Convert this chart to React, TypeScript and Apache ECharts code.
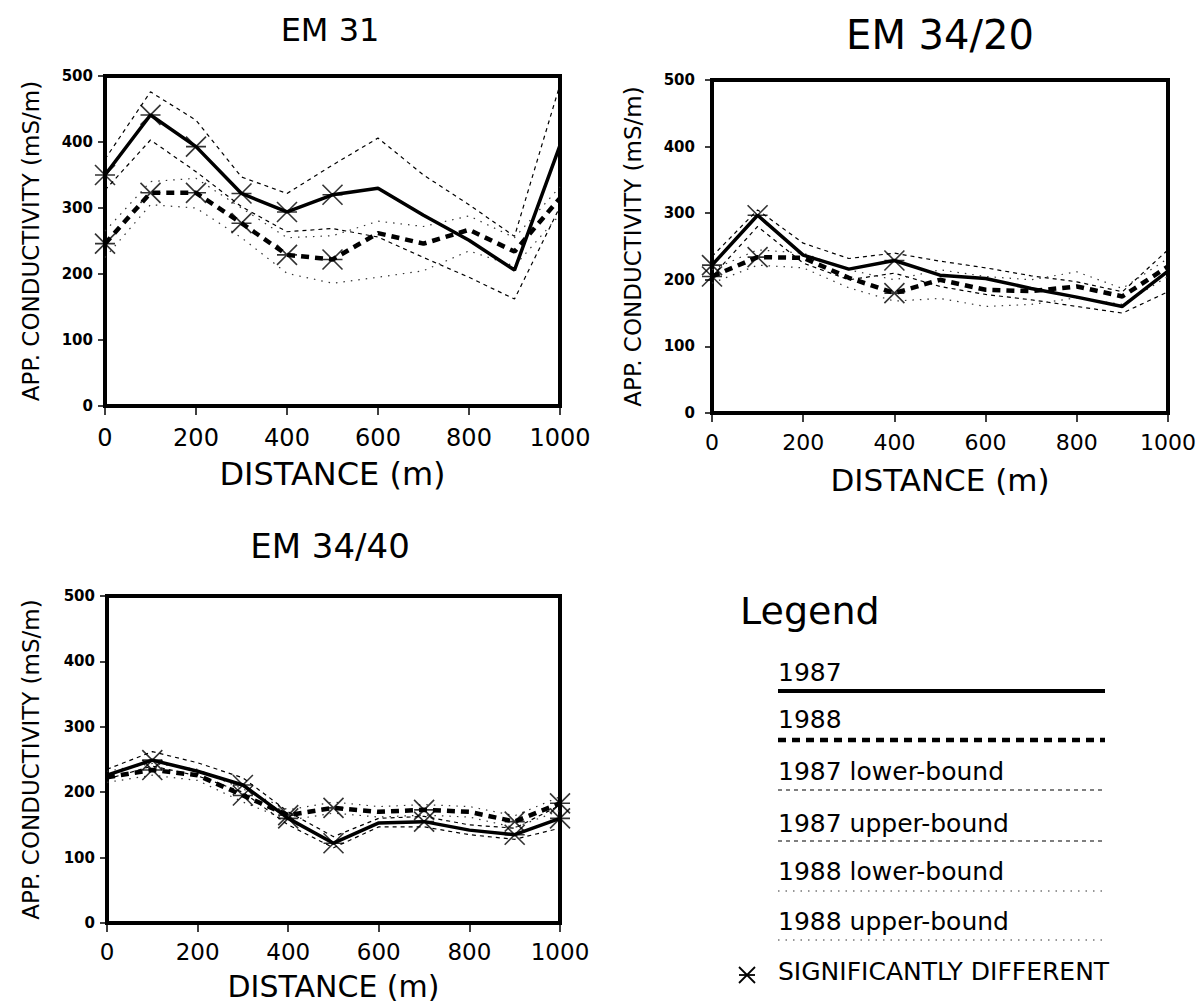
import React, { useEffect, useRef } from "react";
import * as echarts from "echarts";

// ---------- data ----------
const DIST = [0, 100, 200, 300, 400, 500, 600, 700, 800, 900, 1000];

// EM 31
const EM31_1987 = [350, 441, 393, 322, 294, 320, 330, 289, 251, 206, 395];
const EM31_1988 = [246, 323, 323, 277, 229, 222, 262, 246, 267, 234, 315];
const EM31_1987_LO = [327, 403, 355, 302, 264, 269, 256, 225, 195, 162, 302];
const EM31_1987_HI = [374, 476, 433, 347, 322, 365, 406, 350, 305, 257, 487];
const EM31_1988_LO = [225, 305, 300, 255, 201, 186, 195, 205, 235, 212, 290];
const EM31_1988_HI = [265, 340, 345, 300, 255, 258, 280, 272, 288, 255, 332];
const EM31_SIG = [0, 100, 200, 300, 400, 500];

// EM 34/20
const EM3420_1987 = [222, 297, 237, 216, 229, 207, 202, 187, 174, 160, 213];
const EM3420_1988 = [205, 234, 233, 203, 180, 200, 185, 183, 190, 175, 220];
const EM3420_1987_LO = [205, 280, 225, 200, 210, 190, 178, 170, 160, 150, 182];
const EM3420_1987_HI = [235, 305, 255, 232, 240, 228, 218, 206, 197, 182, 245];
const EM3420_1988_LO = [195, 222, 218, 188, 168, 172, 160, 163, 173, 163, 205];
const EM3420_1988_HI = [215, 245, 240, 215, 200, 215, 205, 200, 212, 187, 232];
const EM3420_SIG = [0, 100, 400];

// EM 34/40
const EM3440_1987 = [226, 249, 232, 211, 160, 122, 153, 155, 142, 135, 160];
const EM3440_1988 = [223, 234, 226, 195, 165, 176, 170, 173, 170, 155, 183];
const EM3440_1987_LO = [220, 240, 225, 200, 150, 115, 147, 147, 135, 128, 145];
const EM3440_1987_HI = [235, 262, 245, 222, 170, 132, 160, 163, 150, 145, 180];
const EM3440_1988_LO = [215, 226, 218, 185, 157, 168, 162, 165, 162, 146, 172];
const EM3440_1988_HI = [232, 244, 235, 205, 173, 185, 178, 181, 178, 164, 193];
const EM3440_SIG = [100, 300, 400, 500, 700, 900, 1000];

const Y_MAX = 500;
const Y_INTERVAL = 100;
const X_MAX = 1000;
const X_INTERVAL = 200;

const TITLES = ["EM 31", "EM 34/20", "EM 34/40"];
const X_NAME = "DISTANCE (m)";
const Y_NAME = "APP. CONDUCTIVITY (mS/m)";
const LEGEND_TITLE = "Legend";
const LEGEND_ITEMS = [
  "1987",
  "1988",
  "1987 lower-bound",
  "1987 upper-bound",
  "1988 lower-bound",
  "1988 upper-bound",
];
const SIG_LABEL = "SIGNIFICANTLY DIFFERENT";

const FONT = "DejaVu Sans";
const STAR = "path://M0 0 L10 10 M10 0 L0 10 M0 5 L10 5";

function pairs(ys: number[]) {
  return DIST.map((d, i) => [d, ys[i]]);
}
function sigPairs(ys: number[], sig: number[]) {
  return sig.map((d) => [d, ys[DIST.indexOf(d)]]);
}

function panelSeries(
  gi: number,
  y87: number[],
  y88: number[],
  lo87: number[],
  hi87: number[],
  lo88: number[],
  hi88: number[],
  sig: number[]
) {
  const base = { xAxisIndex: gi, yAxisIndex: gi, silent: true, symbol: "none" };
  const bound87 = { color: "#000", width: 1.2, type: [4, 4] };
  const bound88 = { color: "#333", width: 1.2, type: [1.5, 6] };
  return [
    { ...base, type: "line", data: pairs(lo87), lineStyle: bound87, z: 2 },
    { ...base, type: "line", data: pairs(hi87), lineStyle: bound87, z: 2 },
    { ...base, type: "line", data: pairs(lo88), lineStyle: bound88, z: 2 },
    { ...base, type: "line", data: pairs(hi88), lineStyle: bound88, z: 2 },
    {
      ...base,
      type: "line",
      data: pairs(y87),
      lineStyle: { color: "#000", width: 3.5 },
      z: 3,
    },
    {
      ...base,
      type: "line",
      data: pairs(y88),
      lineStyle: { color: "#000", width: 4.5, type: [8, 6] },
      z: 3,
    },
    {
      xAxisIndex: gi,
      yAxisIndex: gi,
      silent: true,
      type: "scatter",
      symbol: STAR,
      symbolSize: 20,
      data: sigPairs(y87, sig).concat(sigPairs(y88, sig)),
      itemStyle: { color: "rgba(0,0,0,0)", borderColor: "#000", borderWidth: 1.6 },
      z: 4,
    },
  ];
}

const GRIDS = [
  { left: 105, top: 76, width: 455, height: 330 },
  { left: 712, top: 80, width: 456, height: 333 },
  { left: 107, top: 596, width: 453, height: 327 },
];
const X_LABEL_SIZE = [24, 22, 23];
const X_LABEL_MARGIN = [20, 18, 17];
const X_NAME_SIZE = [32, 31, 30];
const X_NAME_GAP = [52, 51, 48];
const Y_LABEL_MARGIN = [12, 17, 12];
const Y_NAME_GAP = [63, 68, 65];

export default function App() {
  const ref = useRef<HTMLDivElement>(null);
  useEffect(() => {
    document.body.style.margin = "0";
    const chart = echarts.init(ref.current!, null, { renderer: "svg" });

    const grid = GRIDS.map((g) => ({
      ...g,
      show: true,
      borderColor: "#000",
      borderWidth: 4,
      backgroundColor: "transparent",
    }));

    const xAxis = GRIDS.map((_, i) => ({
      gridIndex: i,
      type: "value",
      min: 0,
      max: X_MAX,
      interval: X_INTERVAL,
      splitLine: { show: false },
      axisLine: { show: false },
      axisTick: { show: true, length: 9, lineStyle: { color: "#000", width: 1.5 } },
      axisLabel: {
        color: "#000",
        fontSize: X_LABEL_SIZE[i],
        fontFamily: FONT,
        margin: X_LABEL_MARGIN[i],
        lineHeight: X_LABEL_SIZE[i],
        formatter: (v: number) => String(v),
      },
      name: X_NAME,
      nameLocation: "middle",
      nameGap: X_NAME_GAP[i],
      nameTextStyle: {
        color: "#000",
        fontSize: X_NAME_SIZE[i],
        fontFamily: FONT,
        lineHeight: X_NAME_SIZE[i],
      },
    }));

    const yAxis = GRIDS.map((_, i) => ({
      gridIndex: i,
      type: "value",
      min: 0,
      max: Y_MAX,
      interval: Y_INTERVAL,
      splitLine: { show: false },
      axisLine: { show: false },
      axisTick: { show: true, length: 7, lineStyle: { color: "#000", width: 1.5 } },
      axisLabel: {
        color: "#000",
        fontSize: 15,
        fontWeight: "bold",
        fontFamily: FONT,
        margin: Y_LABEL_MARGIN[i],
        formatter: (v: number) => String(v),
      },
      name: Y_NAME,
      nameLocation: "middle",
      nameGap: Y_NAME_GAP[i],
      nameTextStyle: { color: "#000", fontSize: 23, fontFamily: FONT },
    }));

    const series = [
      ...panelSeries(0, EM31_1987, EM31_1988, EM31_1987_LO, EM31_1987_HI, EM31_1988_LO, EM31_1988_HI, EM31_SIG),
      ...panelSeries(1, EM3420_1987, EM3420_1988, EM3420_1987_LO, EM3420_1987_HI, EM3420_1988_LO, EM3420_1988_HI, EM3420_SIG),
      ...panelSeries(2, EM3440_1987, EM3440_1988, EM3440_1987_LO, EM3440_1987_HI, EM3440_1988_LO, EM3440_1988_HI, EM3440_SIG),
    ];

    const titlePos = [
      [330, 14, 32],
      [940, 15, 40],
      [330, 529, 34],
    ];
    const titleGraphics = TITLES.map((t, i) => ({
      type: "text",
      x: titlePos[i][0],
      y: titlePos[i][1],
      style: {
        text: t,
        fill: "#000",
        font: `${titlePos[i][2]}px "${FONT}"`,
        textAlign: "center",
        textVerticalAlign: "top",
      },
    }));

    const legendX = 778;
    const legendLineEnd = 1105;
    const itemTops = [660, 707, 759, 811, 859, 909];
    const lineYs = [691, 740, 790, 841, 891, 940];
    const lineStyles: any[] = [
      { stroke: "#000", lineWidth: 4 },
      { stroke: "#000", lineWidth: 4.5, lineDash: [8, 6] },
      { stroke: "#000", lineWidth: 1.2, lineDash: [4, 4] },
      { stroke: "#000", lineWidth: 1.2, lineDash: [4, 4] },
      { stroke: "#333", lineWidth: 1.2, lineDash: [1.5, 6] },
      { stroke: "#333", lineWidth: 1.2, lineDash: [1.5, 6] },
    ];
    const legendGraphics: any[] = [
      {
        type: "text",
        x: 740,
        y: 592,
        style: { text: LEGEND_TITLE, fill: "#000", font: `38px "${FONT}"` },
      },
    ];
    LEGEND_ITEMS.forEach((label, i) => {
      legendGraphics.push({
        type: "text",
        x: legendX,
        y: itemTops[i],
        style: { text: label, fill: "#000", font: `25px "${FONT}"` },
      });
      legendGraphics.push({
        type: "line",
        shape: { x1: legendX, y1: lineYs[i], x2: legendLineEnd, y2: lineYs[i] },
        style: lineStyles[i],
      });
    });
    const mx = 747;
    const my = 975;
    const ms = 8;
    legendGraphics.push(
      { type: "line", shape: { x1: mx - ms, y1: my - ms, x2: mx + ms, y2: my + ms }, style: { stroke: "#000", lineWidth: 1.8 } },
      { type: "line", shape: { x1: mx - ms, y1: my + ms, x2: mx + ms, y2: my - ms }, style: { stroke: "#000", lineWidth: 1.8 } },
      { type: "line", shape: { x1: mx - ms, y1: my, x2: mx + ms, y2: my }, style: { stroke: "#000", lineWidth: 1.8 } },
      {
        type: "text",
        x: legendX,
        y: 959,
        style: { text: SIG_LABEL, fill: "#000", font: `25px "${FONT}"` },
      }
    );

    chart.setOption({
      animation: false,
      backgroundColor: "#fff",
      grid,
      xAxis,
      yAxis,
      series,
      graphic: [...titleGraphics, ...legendGraphics],
    });
    return () => chart.dispose();
  }, []);
  return <div ref={ref} style={{ width: 1201, height: 1006 }} />;
}
